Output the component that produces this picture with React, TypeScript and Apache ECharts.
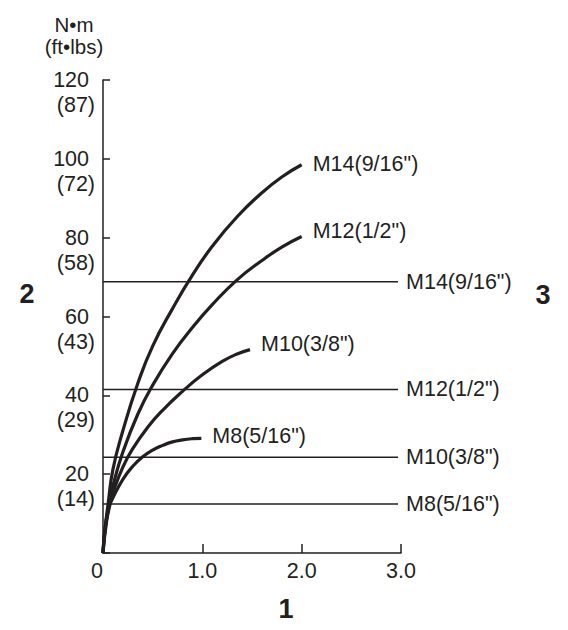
import React, { useEffect, useRef } from "react";
import * as echarts from "echarts";

// ---- data ----
const xTicks = [0, 1, 2, 3];
const yTicks = [0, 20, 40, 60, 80, 100, 120];
const ftLbsTicks = [0, 14, 29, 43, 58, 72, 87];

const curveNames = ['M14(9/16")', 'M12(1/2")', 'M10(3/8")', 'M8(5/16")'];
const m14Curve = [
  [0, 0], [0.02, 6], [0.05, 12.2], [0.1, 21.2], [0.2, 31], [0.35, 43], [0.5, 52.5],
  [0.7, 62], [0.9, 70.5], [1.1, 77.8], [1.35, 85.3], [1.6, 91.4], [1.8, 95.4], [2.0, 98.5],
];
const m12Curve = [
  [0, 0], [0.02, 6], [0.06, 12.2], [0.1, 17], [0.2, 25.6], [0.35, 35.2], [0.5, 42.6],
  [0.7, 50.6], [0.9, 57.2], [1.1, 63], [1.35, 69.3], [1.6, 74.2], [1.8, 77.6], [2.0, 80.3],
];
const m10Curve = [
  [0, 0], [0.02, 6], [0.065, 12.2], [0.1, 15.3], [0.2, 21.8], [0.3, 26.5], [0.45, 31.9],
  [0.6, 36.2], [0.8, 41], [1.0, 45.2], [1.2, 48.6], [1.35, 50.5], [1.48, 51.6],
];
const m8Curve = [
  [0, 0], [0.035, 7.8], [0.07, 12.2], [0.1, 14], [0.2, 18.7], [0.3, 22], [0.4, 24.4],
  [0.5, 26.1], [0.6, 27.3], [0.7, 28.2], [0.8, 28.7], [0.9, 29.0], [0.99, 29.1],
];
const curves = [m14Curve, m12Curve, m10Curve, m8Curve];

const limitNames = ['M14(9/16")', 'M12(1/2")', 'M10(3/8")', 'M8(5/16")'];
const limitValues = [68.8, 41.5, 24.3, 12.4];
const limitStart = 0;
const limitEnd = 2.97;

// ---- style ----
const INK = "#231f20";
const FONT = "Liberation Sans";
const FS = 21.5;
const curveLabelOffsets = [[0, -1], [0, -5], [0, -6], [0, -2]];

export default function App() {
  const ref = useRef<HTMLDivElement>(null);

  useEffect(() => {
    if (!ref.current) return;
    const chart = echarts.init(ref.current, undefined, { renderer: "svg" });

    const curveSeries = curves.map((data, i) => ({
      name: curveNames[i],
      type: "line",
      data,
      symbol: "none",
      showSymbol: false,
      smooth: 0.5,
      silent: true,
      lineStyle: { color: INK, width: 3.2 },
      itemStyle: { color: INK },
      endLabel: {
        show: true,
        formatter: curveNames[i],
        distance: 11,
        offset: curveLabelOffsets[i],
        color: INK,
        fontSize: FS,
        fontFamily: FONT,
      },
      z: 3,
    }));

    const limitSeries = limitValues.map((v, i) => ({
      name: "limit-" + limitNames[i],
      type: "line",
      data: [[limitStart, v], [limitEnd, v]],
      symbol: "none",
      showSymbol: false,
      silent: true,
      lineStyle: { color: INK, width: 1.5 },
      itemStyle: { color: INK },
      endLabel: {
        show: true,
        formatter: limitNames[i],
        distance: 8,
        color: INK,
        fontSize: FS,
        fontFamily: FONT,
      },
      z: 2,
    }));

    const option = {
      animation: false,
      backgroundColor: "#ffffff",
      grid: { left: 103, top: 80, right: 167, bottom: 77, containLabel: false },
      xAxis: {
        type: "value",
        min: xTicks[0],
        max: xTicks[xTicks.length - 1],
        interval: 1,
        axisLine: { show: true, onZero: true, lineStyle: { color: INK, width: 1.5 } },
        axisTick: { show: true, inside: true, length: 9, lineStyle: { color: INK, width: 1.5 } },
        splitLine: { show: false },
        axisLabel: {
          margin: 7,
          color: INK,
          fontSize: FS,
          fontFamily: FONT,
          formatter: (v: number) => (v === 0 ? "{z|0}" : v.toFixed(1)),
          rich: { z: { padding: [0, 12, 0, 0], fontSize: FS, fontFamily: FONT, color: INK } },
        },
      },
      yAxis: {
        type: "value",
        min: yTicks[0],
        max: yTicks[yTicks.length - 1],
        interval: 20,
        axisLine: { show: true, lineStyle: { color: INK, width: 1.5 } },
        axisTick: { show: true, inside: true, length: 7, lineStyle: { color: INK, width: 1.5 } },
        splitLine: { show: false },
        axisLabel: {
          margin: 8,
          align: "right",
          verticalAlign: "middle",
          padding: [25, 0, 0, 0],
          color: INK,
          fontSize: FS,
          fontFamily: FONT,
          formatter: (v: number) => {
            const i = yTicks.indexOf(v);
            if (v === 0 || i < 0) return "";
            return `{a|${v}}\n{b|(${ftLbsTicks[i]})}`;
          },
          rich: {
            a: { padding: [0, 6, 0, 0], fontSize: FS, lineHeight: 25, fontFamily: FONT, color: INK },
            b: { fontSize: FS, lineHeight: 25, fontFamily: FONT, color: INK },
          },
        },
      },
      graphic: [
        { type: "text", x: 74, y: 24, style: { text: "N•m", fill: INK, fontSize: 20.5, fontFamily: FONT, align: "center", verticalAlign: "middle" } },
        { type: "text", x: 74, y: 46, style: { text: "(ft•lbs)", fill: INK, fontSize: 20.5, fontFamily: FONT, align: "center", verticalAlign: "middle" } },
        { type: "text", x: 27, y: 294, style: { text: "2", fill: INK, fontSize: 27, fontWeight: "bold", fontFamily: FONT, align: "center", verticalAlign: "middle" } },
        { type: "text", x: 543, y: 295, style: { text: "3", fill: INK, fontSize: 27, fontWeight: "bold", fontFamily: FONT, align: "center", verticalAlign: "middle" } },
        { type: "text", x: 286, y: 609, style: { text: "1", fill: INK, fontSize: 27, fontWeight: "bold", fontFamily: FONT, align: "center", verticalAlign: "middle" } },
      ],
      series: [...limitSeries, ...curveSeries],
    };

    chart.setOption(option as any);
    return () => chart.dispose();
  }, []);

  return (
    <div
      ref={ref}
      style={{ position: "fixed", left: 0, top: 0, width: 568, height: 630, background: "#fff" }}
    />
  );
}
